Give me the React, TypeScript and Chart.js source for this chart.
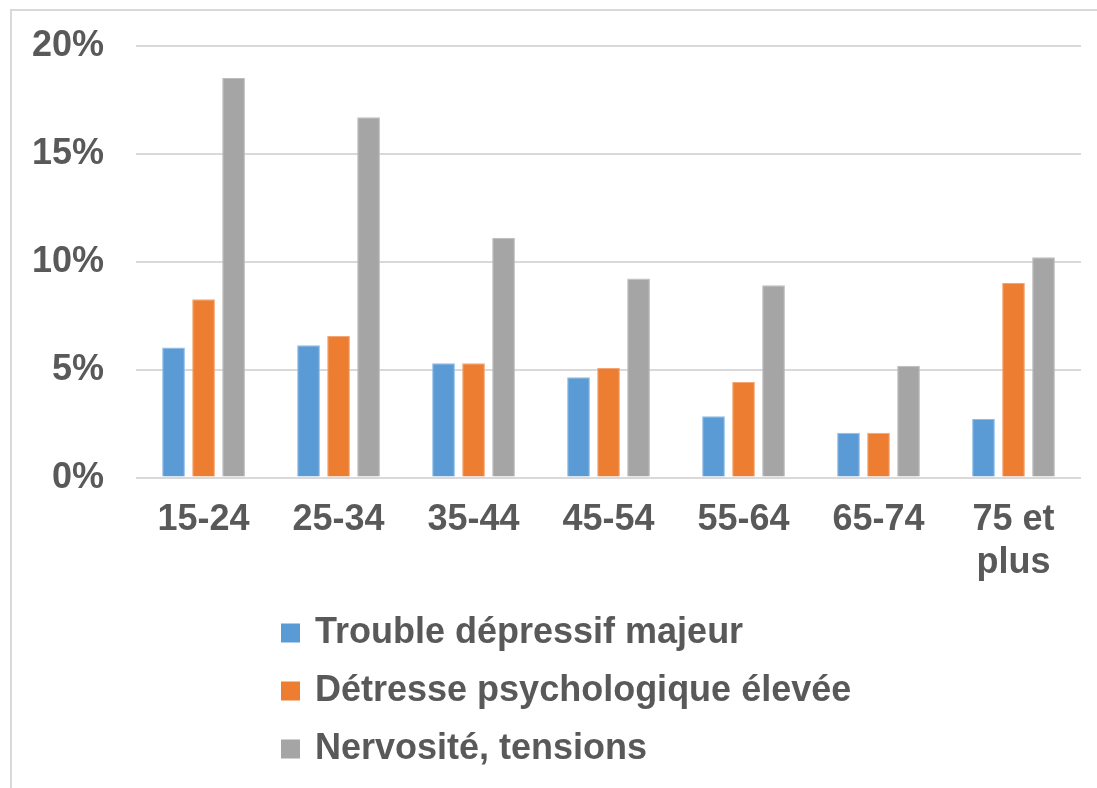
import React, { useEffect, useRef } from 'react';
import { Chart, registerables } from 'chart.js';

Chart.register(...registerables);

// ---- Data ----
const categories: (string | string[])[] = ['15-24', '25-34', '35-44', '45-54', '55-64', '65-74', ['75 et', 'plus']];
const seriesNames = ['Trouble dépressif majeur', 'Détresse psychologique élevée', 'Nervosité, tensions'];
const troubleDepressif = [6.04, 6.14, 5.3, 4.65, 2.84, 2.08, 2.72];
const detressePsy = [8.27, 6.57, 5.3, 5.08, 4.43, 2.08, 9.03];
const nervosite = [18.54, 16.71, 11.13, 9.23, 8.92, 5.19, 10.22];
const yTickValues = [0, 5, 10, 15, 20];

const colors = ['#5B9BD5', '#ED7D31', '#A5A5A5'];
const edgeColors = ['#8FBCE6', '#F3A673', '#BDBDBD'];
const textColor = '#595959';
const gridColor = '#D9D9D9';
const fontFamily = '"Liberation Sans", Arial, Helvetica, sans-serif';

const decorPlugin = {
  id: 'decor',
  beforeDraw(chart: any) {
    const ctx = chart.ctx;
    ctx.save();
    ctx.fillStyle = '#ffffff';
    ctx.fillRect(0, 0, chart.width, chart.height);
    ctx.strokeStyle = gridColor;
    ctx.lineWidth = 2;
    ctx.strokeRect(11, 10, chart.width + 40, chart.height + 40);
    ctx.restore();
  },
  afterDraw(chart: any) {
    const ctx = chart.ctx;
    ctx.save();
    ctx.font = `bold 36px ${fontFamily}`;
    ctx.textBaseline = 'middle';
    ctx.textAlign = 'left';
    chart.data.datasets.forEach((ds: any, i: number) => {
      const cy = 633 + i * 58;
      ctx.fillStyle = ds.backgroundColor;
      ctx.fillRect(281, cy - 9.5, 19, 19);
      ctx.fillStyle = textColor;
      ctx.fillText(ds.label, 315, cy);
    });
    ctx.restore();
  },
};

export default function App() {
  const canvasRef = useRef<HTMLCanvasElement | null>(null);

  useEffect(() => {
    if (!canvasRef.current) return;
    const seriesData = [troubleDepressif, detressePsy, nervosite];
    const chart = new Chart(canvasRef.current, {
      type: 'bar',
      data: {
        labels: categories as any,
        datasets: seriesData.map((d, i) => ({
          label: seriesNames[i],
          data: d,
          backgroundColor: colors[i],
          borderColor: edgeColors[i],
          borderWidth: 1,
          categoryPercentage: 0.667,
          barPercentage: 0.757,
        })),
      },
      options: {
        responsive: false,
        animation: false,
        devicePixelRatio: 1,
        layout: { padding: { top: 40, left: 0, right: 16, bottom: 182 } },
        plugins: {
          legend: { display: false },
          tooltip: { enabled: false },
          title: { display: false },
        },
        scales: {
          x: {
            grid: { display: false, drawTicks: false },
            border: { display: false },
            ticks: {
              color: textColor,
              font: { family: fontFamily, size: 36, weight: 'bold' },
              padding: 21,
              maxRotation: 0,
              autoSkip: false,
            },
          },
          y: {
            min: 0,
            max: 20,
            afterBuildTicks: (axis: any) => {
              axis.ticks = yTickValues.map((v) => ({ value: v }));
            },
            grid: { color: gridColor, lineWidth: 2, drawTicks: false },
            border: { display: false },
            ticks: {
              color: textColor,
              font: { family: fontFamily, size: 36, weight: 'bold', lineHeight: 0.8 },
              padding: 32,
              callback: (v: any) => `${v}%`,
            },
          },
        },
      },
      plugins: [decorPlugin],
    });
    return () => chart.destroy();
  }, []);

  return (
    <div style={{ position: 'fixed', left: 0, top: 0, width: 1097, height: 788 }}>
      <canvas ref={canvasRef} width={1097} height={788} />
    </div>
  );
}
